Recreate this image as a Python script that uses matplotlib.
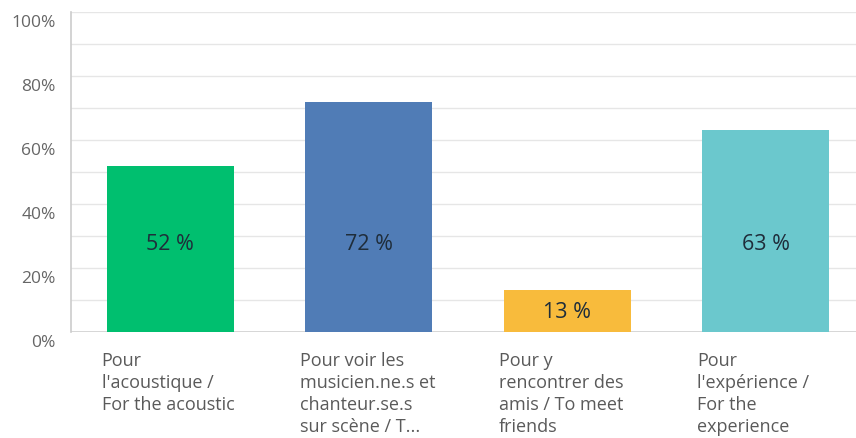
import matplotlib.pyplot as plt
import matplotlib.transforms as mtransforms

plt.rcParams['font.family'] = ['Open Sans', 'DejaVu Sans']

# data
categories = [
    "Pour\nl'acoustique /\nFor the acoustic",
    "Pour voir les\nmusicien.ne.s et\nchanteur.se.s\nsur scène / T...",
    "Pour y\nrencontrer des\namis / To meet\nfriends",
    "Pour\nl'expérience /\nFor the\nexperience",
]
values = [52, 72, 13, 63]
colors = ['#00BF6F', '#507CB6', '#F8BB3C', '#6BC8CD']
yticks = [0, 20, 40, 60, 80, 100]

fig = plt.figure(figsize=(8.56, 4.39), dpi=100)
ax = fig.add_axes([71 / 856, 106 / 439, 794 / 856, 320 / 439])

x = list(range(len(values)))
width = 0.64
ax.bar(x, values, width=width, color=colors, zorder=3)

# value labels inside the bars: fixed height for tall bars, centred for short ones
for xi, v in zip(x, values):
    y = 27.5 if v >= 40 else v / 2
    ax.text(xi, y, f"{v} %", ha='center', va='center',
            fontsize=15.5, color='#1f2d3a', zorder=4)

# grid every 10%
for g in range(10, 101, 10):
    ax.axhline(g, color='#e6e6e6', lw=1, zorder=1)
ax.axhline(0, color='#d0d0d0', lw=1.2, zorder=2)

ax.set_xlim(-0.5, 3.5)
ax.set_ylim(0, 100)
ax.set_yticks(yticks)
ax.set_yticklabels([f"{t}%" for t in yticks], fontsize=12.5, color='#666666')
ax.tick_params(axis='y', length=0, pad=11)
off = mtransforms.ScaledTranslation(0, -8 / 100, fig.dpi_scale_trans)
for lab in ax.get_yticklabels():
    lab.set_transform(lab.get_transform() + off)
ax.set_xticks([])

for s in ['top', 'right', 'bottom']:
    ax.spines[s].set_visible(False)
ax.spines['left'].set_color('#cccccc')
ax.spines['left'].set_linewidth(1.2)

# category labels, left aligned under each bar
lab_off = mtransforms.ScaledTranslation(-5 / 100, -19 / 100, fig.dpi_scale_trans)
for xi, c in zip(x, categories):
    ax.text(xi - width / 2, 0, c, ha='left', va='top', fontsize=13,
            color='#5a5a5a', linespacing=1.28,
            transform=ax.transData + lab_off, clip_on=False)

fig.savefig('out.png', dpi=100)
